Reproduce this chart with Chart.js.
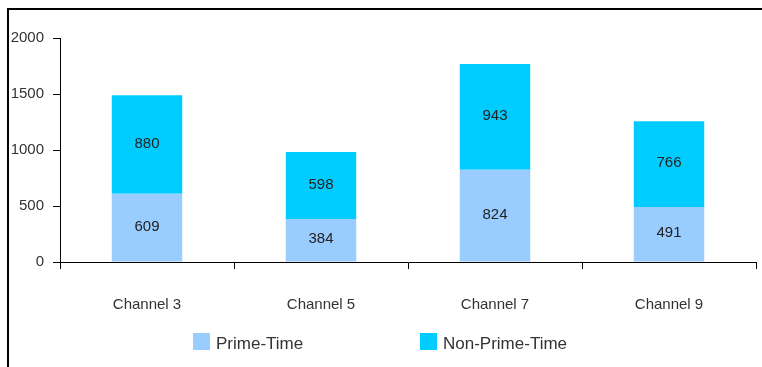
<!DOCTYPE html>
<html>
<head>
<meta charset="utf-8">
<script src="https://cdn.jsdelivr.net/npm/chart.js@4/dist/chart.umd.min.js"></script>
<style>
  html, body { margin: 0; padding: 0; background: #fff; }
  #wrap { position: relative; width: 762px; height: 367px; }
</style>
</head>
<body>
<div id="wrap"><canvas id="myChart" width="762" height="367"></canvas></div>
<script>
const channels = ["Channel 3", "Channel 5", "Channel 7", "Channel 9"];
const primeTime = [609, 384, 824, 491];
const nonPrimeTime = [880, 598, 943, 766];
const yTicks = [0, 500, 1000, 1500, 2000];

const FONT = "'Liberation Sans', Arial, sans-serif";
const TEXT = "#333333";

// outer frame (only top/left edges are visible in the picture)
const framePlugin = {
    id: "frame",
    beforeDraw: function (chart) {
        const c = chart.ctx;
        c.save();
        c.fillStyle = "#fff";
        c.fillRect(0, 0, chart.width, chart.height);
        c.strokeStyle = "#000";
        c.lineWidth = 2;
        c.beginPath();
        c.moveTo(8, chart.height);
        c.lineTo(8, 9);
        c.lineTo(chart.width, 9);
        c.stroke();
        c.restore();
    }
};

// value labels in the middle of every segment
const valueLabels = {
    id: "valueLabels",
    afterDatasetsDraw: function (chart) {
        const c = chart.ctx;
        c.save();
        c.font = "15px " + FONT;
        c.fillStyle = "#222";
        c.textAlign = "center";
        c.textBaseline = "middle";
        chart.data.datasets.forEach(function (ds, i) {
            chart.getDatasetMeta(i).data.forEach(function (bar, j) {
                const y = (bar.y + bar.base) / 2;
                c.fillText(String(ds.data[j]), bar.x, y - 1);
            });
        });
        c.restore();
    }
};

// legend drawn by hand so the two items can sit far apart
const legendPlugin = {
    id: "customLegend",
    afterDraw: function (chart) {
        const c = chart.ctx;
        const starts = [193, 420];
        c.save();
        c.font = "17px " + FONT;
        c.textBaseline = "middle";
        chart.data.datasets.forEach(function (ds, i) {
            const x = starts[i];
            c.fillStyle = ds.backgroundColor;
            c.fillRect(x, 333, 17, 17);
            c.fillStyle = TEXT;
            c.fillText(ds.label, x + 23, 344);
        });
        c.restore();
    }
};

const ctx = document.getElementById("myChart");
new Chart(ctx, {
    type: "bar",
    data: {
        labels: channels,
        datasets: [{
            label: "Prime-Time",
            data: primeTime,
            backgroundColor: "#99CCFF",
            categoryPercentage: 0.405,
            barPercentage: 1.0
        }, {
            label: "Non-Prime-Time",
            data: nonPrimeTime,
            backgroundColor: "#00CCFF",
            categoryPercentage: 0.405,
            barPercentage: 1.0
        }]
    },
    options: {
        responsive: false,
        animation: false,
        layout: { padding: { top: 38, right: 6, left: 0, bottom: 0 } },
        plugins: {
            legend: { display: false },
            tooltip: { enabled: false }
        },
        scales: {
            x: {
                stacked: true,
                afterFit: function (scale) { scale.height = 105; },
                grid: {
                    offset: true,
                    drawOnChartArea: false,
                    drawTicks: true,
                    tickLength: 7,
                    color: "#000"
                },
                border: { display: true, color: "#000", width: 1 },
                ticks: {
                    padding: 27,
                    color: TEXT,
                    font: { family: FONT, size: 15 }
                }
            },
            y: {
                stacked: true,
                min: yTicks[0],
                max: yTicks[yTicks.length - 1],
                afterFit: function (scale) { scale.width = 60; },
                afterBuildTicks: function (scale) {
                    scale.ticks = yTicks.map(function (v) { return { value: v }; });
                },
                grid: {
                    drawOnChartArea: false,
                    drawTicks: true,
                    tickLength: 7,
                    color: "#000"
                },
                border: { display: true, color: "#000", width: 1 },
                ticks: {
                    padding: 9,
                    color: TEXT,
                    font: { family: FONT, size: 15 },
                    callback: function (v) { return String(v); }
                }
            }
        }
    },
    plugins: [framePlugin, valueLabels, legendPlugin]
});
</script>
</body>
</html>
